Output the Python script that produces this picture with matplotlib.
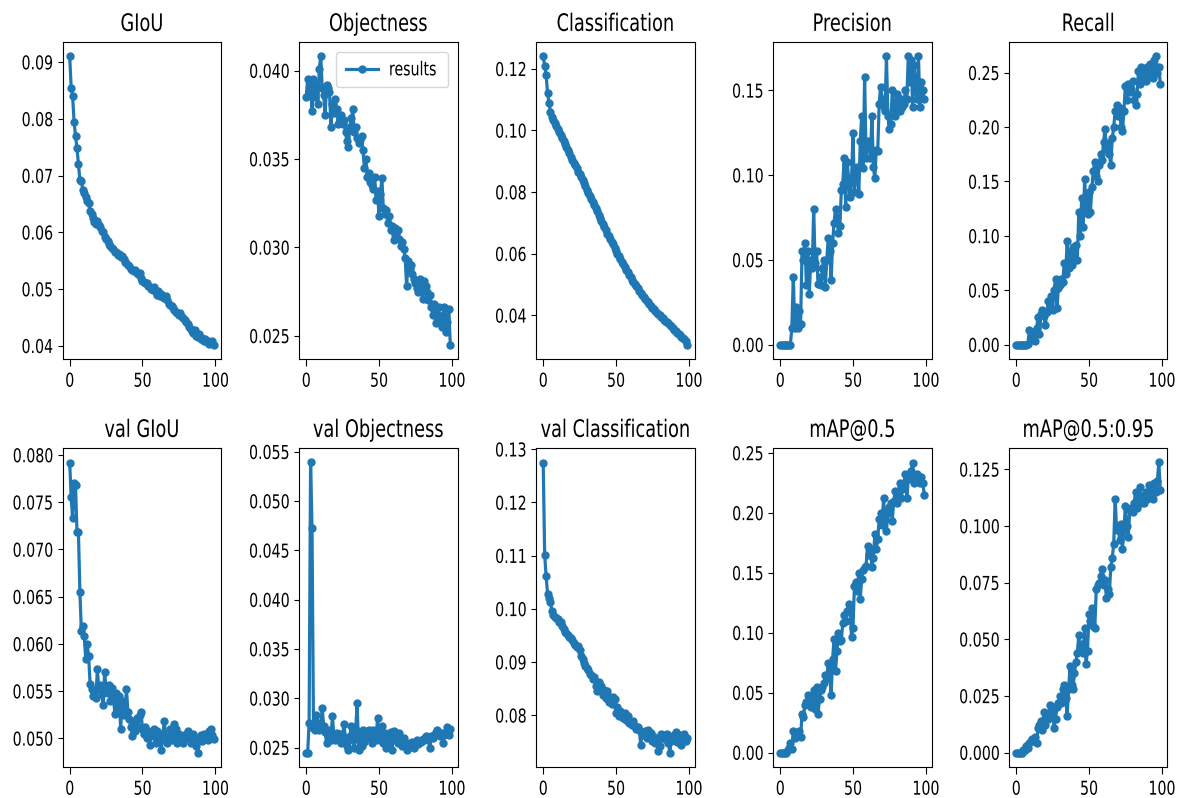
import matplotlib
matplotlib.use('Agg')
import matplotlib.pyplot as plt
from matplotlib.ticker import MultipleLocator
from matplotlib.patheffects import AbstractPathEffect
from matplotlib.transforms import Affine2D

# Epoki treningu
epochs = list(range(100))

titles = ['GIoU', 'Objectness', 'Classification', 'Precision', 'Recall',
          'val GIoU', 'val Objectness', 'val Classification', 'mAP@0.5', 'mAP@0.5:0.95']

giou = [0.0910, 0.0855, 0.0840, 0.0795, 0.0770, 0.0748, 0.0720, 0.0692, 0.0690, 0.0675,
        0.0670, 0.0662, 0.0655, 0.0652, 0.0638, 0.0632, 0.0625, 0.0618, 0.0615, 0.0620,
        0.0612, 0.0610, 0.0602, 0.0600, 0.0592, 0.0588, 0.0585, 0.0580, 0.0576, 0.0572,
        0.0570, 0.0566, 0.0565, 0.0560, 0.0562, 0.0556, 0.0558, 0.0552, 0.0548, 0.0546,
        0.0542, 0.0540, 0.0536, 0.0534, 0.0532, 0.0534, 0.0528, 0.0526, 0.0528, 0.0520,
        0.0514, 0.0512, 0.0510, 0.0511, 0.0506, 0.0503, 0.0500, 0.0498, 0.0503, 0.0494,
        0.0490, 0.0496, 0.0488, 0.0492, 0.0486, 0.0484, 0.0488, 0.0480, 0.0474, 0.0472,
        0.0470, 0.0466, 0.0463, 0.0460, 0.0458, 0.0455, 0.0457, 0.0451, 0.0448, 0.0445,
        0.0441, 0.0438, 0.0433, 0.0430, 0.0426, 0.0423, 0.0427, 0.0418, 0.0415, 0.0420,
        0.0411, 0.0413, 0.0409, 0.0411, 0.0406, 0.0409, 0.0403, 0.0406, 0.0408, 0.0402]

objectness = [0.0385, 0.0395, 0.0388, 0.0392, 0.0377, 0.0395, 0.0385, 0.0392, 0.0381, 0.0401,
              0.0408, 0.0390, 0.0386, 0.0375, 0.0392, 0.0390, 0.0388, 0.0368, 0.0381, 0.0376,
              0.0384, 0.0378, 0.0370, 0.0372, 0.0375, 0.0370, 0.0372, 0.0365, 0.0360, 0.0357,
              0.0368, 0.0373, 0.0378, 0.0365, 0.0368, 0.0362, 0.0359, 0.0361, 0.0363, 0.0355,
              0.0345, 0.0350, 0.0340, 0.0342, 0.0337, 0.0335, 0.0333, 0.0340, 0.0327, 0.0332,
              0.0318, 0.0330, 0.0339, 0.0322, 0.0319, 0.0321, 0.0314, 0.0318, 0.0310, 0.0312,
              0.0304, 0.0311, 0.0308, 0.0310, 0.0305, 0.0301, 0.0303, 0.0299, 0.0294, 0.0278,
              0.0292, 0.0288, 0.0290, 0.0285, 0.0282, 0.0280, 0.0277, 0.0275, 0.0282, 0.0276,
              0.0271, 0.0281, 0.0278, 0.0275, 0.0270, 0.0273, 0.0266, 0.0262, 0.0268, 0.0257,
              0.0262, 0.0266, 0.0258, 0.0255, 0.0262, 0.0266, 0.0252, 0.0258, 0.0265, 0.0245]

classification = [0.1240, 0.1210, 0.1180, 0.1120, 0.1090, 0.1060, 0.1045, 0.1035, 0.1025, 0.1015,
                  0.1005, 0.0995, 0.0985, 0.0975, 0.0965, 0.0955, 0.0945, 0.0935, 0.0925, 0.0915,
                  0.0905, 0.0895, 0.0887, 0.0877, 0.0866, 0.0857, 0.0848, 0.0838, 0.0828, 0.0818,
                  0.0808, 0.0798, 0.0788, 0.0778, 0.0768, 0.0757, 0.0748, 0.0737, 0.0727, 0.0717,
                  0.0707, 0.0697, 0.0688, 0.0677, 0.0665, 0.0657, 0.0648, 0.0638, 0.0630, 0.0620,
                  0.0610, 0.0600, 0.0592, 0.0582, 0.0573, 0.0565, 0.0556, 0.0548, 0.0540, 0.0532,
                  0.0524, 0.0516, 0.0509, 0.0501, 0.0494, 0.0487, 0.0480, 0.0473, 0.0467, 0.0460,
                  0.0454, 0.0448, 0.0442, 0.0436, 0.0430, 0.0425, 0.0420, 0.0414, 0.0409, 0.0404,
                  0.0400, 0.0395, 0.0390, 0.0386, 0.0382, 0.0378, 0.0374, 0.0370, 0.0366, 0.0358,
                  0.0352, 0.0348, 0.0344, 0.0339, 0.0335, 0.0330, 0.0326, 0.0322, 0.0318, 0.0305]

precision = [0.000, 0.000, 0.000, 0.000, 0.000, 0.000, 0.000, 0.000, 0.010, 0.040,
             0.010, 0.022, 0.010, 0.020, 0.012, 0.055, 0.050, 0.060, 0.035, 0.055,
             0.030, 0.050, 0.045, 0.080, 0.048, 0.055, 0.036, 0.040, 0.035, 0.045,
             0.050, 0.034, 0.050, 0.063, 0.055, 0.038, 0.060, 0.072, 0.080, 0.075,
             0.066, 0.070, 0.091, 0.095, 0.110, 0.081, 0.108, 0.098, 0.087, 0.097,
             0.125, 0.090, 0.100, 0.105, 0.089, 0.120, 0.135, 0.104, 0.158, 0.110,
             0.120, 0.118, 0.110, 0.135, 0.105, 0.098, 0.115, 0.114, 0.142, 0.152,
             0.145, 0.140, 0.138, 0.170, 0.135, 0.127, 0.130, 0.150, 0.140, 0.135,
             0.148, 0.140, 0.138, 0.145, 0.140, 0.142, 0.150, 0.145, 0.170, 0.155,
             0.168, 0.140, 0.165, 0.150, 0.145, 0.170, 0.140, 0.155, 0.150, 0.145]

recall = [0.000, 0.000, 0.000, 0.000, 0.000, 0.000, 0.000, 0.000, 0.001, 0.013,
          0.004, 0.010, 0.012, 0.003, 0.015, 0.025, 0.010, 0.028, 0.032, 0.026,
          0.018, 0.030, 0.040, 0.035, 0.045, 0.032, 0.050, 0.060, 0.034, 0.052,
          0.055, 0.060, 0.058, 0.075, 0.065, 0.095, 0.070, 0.085, 0.073, 0.090,
          0.080, 0.092, 0.078, 0.122, 0.100, 0.135, 0.108, 0.152, 0.125, 0.120,
          0.140, 0.122, 0.145, 0.160, 0.168, 0.155, 0.150, 0.165, 0.175, 0.170,
          0.186, 0.198, 0.180, 0.185, 0.175, 0.165, 0.190, 0.200, 0.215, 0.220,
          0.210, 0.218, 0.200, 0.196, 0.215, 0.238, 0.225, 0.240, 0.232, 0.235,
          0.242, 0.225, 0.220, 0.230, 0.252, 0.240, 0.255, 0.245, 0.250, 0.242,
          0.255, 0.248, 0.258, 0.250, 0.245, 0.262, 0.265, 0.250, 0.255, 0.240]

val_giou = [0.0792, 0.0755, 0.0733, 0.0770, 0.0768, 0.0718, 0.0718, 0.0655, 0.0614, 0.0619,
            0.0608, 0.0584, 0.0600, 0.0587, 0.0558, 0.0552, 0.0545, 0.0549, 0.0543, 0.0573,
            0.0552, 0.0556, 0.0547, 0.0535, 0.0570, 0.0552, 0.0548, 0.0556, 0.0540, 0.0553,
            0.0545, 0.0526, 0.0548, 0.0532, 0.0545, 0.0510, 0.0540, 0.0525, 0.0530, 0.0552,
            0.0528, 0.0520, 0.0512, 0.0502, 0.0518, 0.0508, 0.0522, 0.0512, 0.0525, 0.0528,
            0.0510, 0.0505, 0.0512, 0.0500, 0.0508, 0.0493, 0.0505, 0.0502, 0.0510, 0.0495,
            0.0508, 0.0500, 0.0498, 0.0488, 0.0505, 0.0518, 0.0502, 0.0495, 0.0500, 0.0510,
            0.0498, 0.0502, 0.0515, 0.0510, 0.0495, 0.0505, 0.0498, 0.0502, 0.0495, 0.0500,
            0.0505, 0.0508, 0.0502, 0.0495, 0.0500, 0.0505, 0.0498, 0.0492, 0.0485, 0.0500,
            0.0503, 0.0497, 0.0505, 0.0500, 0.0502, 0.0498, 0.0508, 0.0510, 0.0503, 0.0499]

val_objectness = [0.0245, 0.0245, 0.0275, 0.0539, 0.0473, 0.0270, 0.0268, 0.0283, 0.0275, 0.0268,
                  0.0272, 0.0290, 0.0272, 0.0266, 0.0255, 0.0262, 0.0268, 0.0258, 0.0282, 0.0262,
                  0.0258, 0.0265, 0.0260, 0.0264, 0.0255, 0.0262, 0.0274, 0.0258, 0.0252, 0.0248,
                  0.0262, 0.0272, 0.0258, 0.0250, 0.0268, 0.0295, 0.0248, 0.0265, 0.0252, 0.0268,
                  0.0256, 0.0265, 0.0262, 0.0268, 0.0260, 0.0255, 0.0268, 0.0262, 0.0258, 0.0280,
                  0.0262, 0.0258, 0.0272, 0.0255, 0.0265, 0.0250, 0.0262, 0.0255, 0.0266, 0.0248,
                  0.0267, 0.0258, 0.0262, 0.0255, 0.0265, 0.0258, 0.0252, 0.0260, 0.0255, 0.0248,
                  0.0250, 0.0255, 0.0252, 0.0256, 0.0250, 0.0255, 0.0258, 0.0254, 0.0257, 0.0256,
                  0.0259, 0.0258, 0.0262, 0.0260, 0.0258, 0.0250, 0.0262, 0.0260, 0.0263, 0.0266,
                  0.0268, 0.0264, 0.0262, 0.0265, 0.0255, 0.0263, 0.0266, 0.0271, 0.0263, 0.0269]

val_classification = [0.1275, 0.1102, 0.1061, 0.1028, 0.1020, 0.1012, 0.0995, 0.0988, 0.0985, 0.0982,
                      0.0980, 0.0976, 0.0975, 0.0968, 0.0962, 0.0956, 0.0955, 0.0950, 0.0948, 0.0945,
                      0.0942, 0.0935, 0.0932, 0.0928, 0.0930, 0.0922, 0.0912, 0.0905, 0.0898, 0.0892,
                      0.0888, 0.0885, 0.0878, 0.0875, 0.0868, 0.0872, 0.0855, 0.0845, 0.0862, 0.0848,
                      0.0855, 0.0838, 0.0848, 0.0832, 0.0845, 0.0825, 0.0835, 0.0822, 0.0835, 0.0830,
                      0.0805, 0.0815, 0.0798, 0.0808, 0.0802, 0.0795, 0.0805, 0.0792, 0.0798, 0.0785,
                      0.0788, 0.0782, 0.0790, 0.0780, 0.0775, 0.0778, 0.0772, 0.0745, 0.0768, 0.0762,
                      0.0770, 0.0758, 0.0772, 0.0760, 0.0766, 0.0752, 0.0760, 0.0748, 0.0755, 0.0732,
                      0.0742, 0.0765, 0.0758, 0.0762, 0.0755, 0.0765, 0.0748, 0.0730, 0.0752, 0.0760,
                      0.0762, 0.0768, 0.0750, 0.0755, 0.0762, 0.0745, 0.0758, 0.0765, 0.0752, 0.0758]

map50 = [0.000, 0.000, 0.000, 0.000, 0.000, 0.001, 0.004, 0.008, 0.003, 0.018,
         0.012, 0.016, 0.015, 0.018, 0.013, 0.032, 0.030, 0.040, 0.042, 0.048,
         0.045, 0.038, 0.042, 0.052, 0.036, 0.055, 0.032, 0.045, 0.052, 0.055,
         0.058, 0.065, 0.062, 0.075, 0.070, 0.048, 0.078, 0.095, 0.068, 0.085,
         0.100, 0.093, 0.094, 0.108, 0.115, 0.110, 0.118, 0.124, 0.122, 0.096,
         0.104, 0.139, 0.142, 0.135, 0.150, 0.128, 0.145, 0.152, 0.155, 0.156,
         0.172, 0.165, 0.170, 0.155, 0.162, 0.182, 0.170, 0.178, 0.195, 0.200,
         0.190, 0.212, 0.195, 0.185, 0.200, 0.205, 0.208, 0.193, 0.210, 0.218,
         0.208, 0.215, 0.225, 0.212, 0.220, 0.225, 0.232, 0.212, 0.228, 0.230,
         0.235, 0.242, 0.225, 0.230, 0.232, 0.228, 0.225, 0.230, 0.225, 0.215]

map50_95 = [0.000, 0.000, 0.000, 0.000, 0.000, 0.001, 0.001, 0.003, 0.002, 0.004,
            0.005, 0.006, 0.005, 0.007, 0.004, 0.011, 0.012, 0.014, 0.010, 0.018,
            0.012, 0.016, 0.015, 0.021, 0.018, 0.020, 0.011, 0.015, 0.020, 0.022,
            0.025, 0.022, 0.028, 0.030, 0.024, 0.016, 0.028, 0.038, 0.030, 0.028,
            0.035, 0.040, 0.044, 0.052, 0.045, 0.048, 0.044, 0.055, 0.039, 0.045,
            0.061, 0.058, 0.064, 0.056, 0.055, 0.072, 0.074, 0.075, 0.078, 0.081,
            0.074, 0.076, 0.068, 0.072, 0.070, 0.082, 0.086, 0.092, 0.112, 0.098,
            0.100, 0.094, 0.101, 0.090, 0.098, 0.109, 0.100, 0.095, 0.107, 0.108,
            0.106, 0.110, 0.115, 0.108, 0.112, 0.117, 0.110, 0.113, 0.110, 0.115,
            0.112, 0.118, 0.114, 0.116, 0.112, 0.119, 0.115, 0.120, 0.128, 0.116]

series = [giou, objectness, classification, precision, recall,
          val_giou, val_objectness, val_classification, map50, map50_95]

# Krok podzialki osi Y dla kazdego panelu
y_steps = [0.01, 0.005, 0.02, 0.05, 0.05, 0.005, 0.005, 0.01, 0.05, 0.025]

# Polozenie osi w pikselach (lewa krawedz, gora, dol) dla obrazu 1186x798
W, H = 1186, 798
col_left = [62.5, 299, 536, 773, 1009]
ax_w = 158.5
row_top = [42, 448]
row_bot = [359, 767]

STRETCH = 1.35  # tekst w oryginale jest wyzszy niz szerszy


class Tall(AbstractPathEffect):  # rozciagniecie glifow w pionie wokol punktu pivot
    def __init__(self, sy, pivot):
        super().__init__()
        self.sy = sy
        self.pivot = pivot

    def draw_path(self, renderer, gc, tpath, affine, rgbFace=None):
        t = Affine2D().translate(0, -self.pivot).scale(1, self.sy).translate(0, self.pivot)
        renderer.draw_path(gc, tpath, t + affine, rgbFace)


fig, axes = plt.subplots(nrows=2, ncols=5, figsize=(W / 100, H / 100), dpi=100)
axes = axes.ravel()

for i, ax in enumerate(axes):
    r, c = divmod(i, 5)
    ax.set_position([col_left[c] / W, 1 - row_bot[r] / H, ax_w / W, (row_bot[r] - row_top[r]) / H])
    ax.plot(epochs, series[i], marker='.', color='#1f77b4', linewidth=2.3, markersize=10,
            label='results')
    ax.set_title(titles[i], fontsize=12.8, pad=8)
    ax.yaxis.set_major_locator(MultipleLocator(y_steps[i]))
    ax.xaxis.set_major_locator(MultipleLocator(50))
    ax.tick_params(axis='both', labelsize=10.2)
    ax.tick_params(axis='x', length=4.7, pad=4.7)

axes[1].legend(loc='upper right', fontsize=10.2, handlelength=2.2,
               borderpad=0.75, borderaxespad=0.7)

fig.canvas.draw()
for ax in axes:
    for t in ax.get_yticklabels():
        t.set_path_effects([Tall(STRETCH, 36)])
    for t in ax.get_xticklabels():
        t.set_path_effects([Tall(STRETCH, 73)])
    ax.title.set_path_effects([Tall(STRETCH, 0)])
for t in axes[1].get_legend().get_texts():
    t.set_path_effects([Tall(STRETCH, 36)])

fig.savefig('out.png', dpi=100)
